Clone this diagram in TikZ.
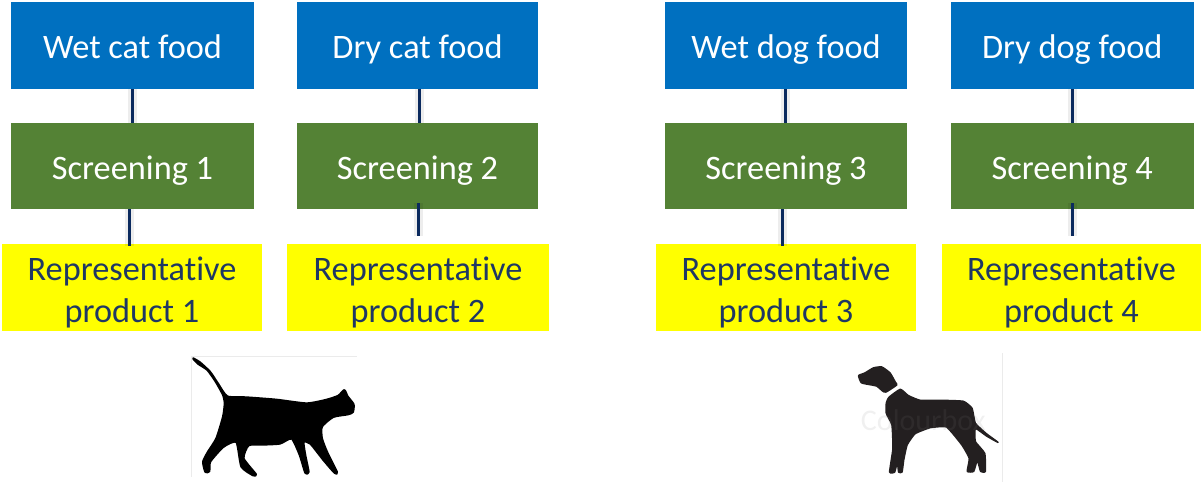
\documentclass[tikz,border=0pt]{standalone}
\usepackage{fontspec}
\setmainfont[Ligatures=NoCommon]{Carlito}
\definecolor{bluebox}{HTML}{0070C0}
\definecolor{greenbox}{HTML}{548235}
\definecolor{yellowbox}{HTML}{FFFF00}
\definecolor{navy}{HTML}{0B2A5E}
\definecolor{navytext}{HTML}{1F3864}
\definecolor{dogblack}{HTML}{231F20}
\tikzset{
  basebox/.style={anchor=north west,inner sep=0pt,outer sep=0pt,align=center,font=\fontsize{34.3}{42}\selectfont},
  foodbox/.style={basebox,fill=bluebox,text=white,text height=32pt,text depth=6pt,minimum height=87pt},
  screenbox/.style={basebox,fill=greenbox,text=white,text height=32pt,text depth=6pt,minimum height=86pt},
  prodbox/.style={basebox,fill=yellowbox,text=navytext,text height=75pt,text depth=6pt,minimum height=87pt},
  link/.style={draw=navy,line width=3pt,preaction={draw=black,opacity=0.07,line width=9pt}},
  zoomed/.style={x=0.3333pt,y=-0.3333pt},
  hairline/.style={draw=black!8,line width=0.7pt}
}
\begin{document}
\begin{tikzpicture}[x=1pt,y=-1pt]
\useasboundingbox (0,0) rectangle (1201,484);
% column 1
\node[foodbox,minimum width=243pt] (f1) at (11,2) {Wet cat food};
\node[screenbox,minimum width=243pt] (s1) at (11,123) {Screening 1};
\node[prodbox,minimum width=260pt] (p1) at (2,244) {Representative\\product 1};
% column 2
\node[foodbox,minimum width=241pt] (f2) at (297,2) {Dry cat food};
\node[screenbox,minimum width=241pt] (s2) at (297,123) {Screening 2};
\node[prodbox,minimum width=262pt] (p2) at (287,244) {Representative\\product 2};
% column 3
\node[foodbox,minimum width=242pt] (f3) at (665,2) {Wet dog food};
\node[screenbox,minimum width=242pt] (s3) at (665,123) {Screening 3};
\node[prodbox,minimum width=260pt] (p3) at (656,244) {Representative\\product 3};
% column 4
\node[foodbox,minimum width=242.5pt] (f4) at (951,2) {Dry dog food};
\node[screenbox,minimum width=242.5pt] (s4) at (951,123) {Screening 4};
\node[prodbox,minimum width=259pt] (p4) at (942,244) {Representative\\product 4};
% connectors
\draw[link] ([xshift=-0.5pt]f1.south) -- ([xshift=-0.5pt]s1.north);
\draw[link] ([xshift=-3.5pt]s1.south) -- ([xshift=-3.5pt,yshift=-2pt]s1.south |- p1.north);
\draw[link] ([xshift=1.5pt]f2.south) -- ([xshift=1.5pt]s2.north);
\path ([xshift=1pt,yshift=6pt]s2.south) coordinate (s2out) ([yshift=8.5pt]p2.north) coordinate (p2in);
\draw[link] (s2out) -- (s2out |- p2in);
\draw[link] ([xshift=-1pt]f3.south) -- ([xshift=-1pt]s3.north);
\draw[link] ([xshift=-4pt]s3.south) -- ([xshift=-4pt,yshift=-2pt]s3.south |- p3.north);
\draw[link] (f4.south) -- (s4.north);
\path ([yshift=6pt]s4.south) coordinate (s4out) ([yshift=8.5pt]p4.north) coordinate (p4in);
\draw[link] (s4out) -- (s4out |- p4in);
% cat
\begin{scope}[shift={(180,345)},zoomed]
\draw[hairline] (35,395) -- (35,35) -- (532,35);
\filldraw[black,line width=2pt,line join=round] plot[smooth cycle,tension=0.35] coordinates {
(40,40)(60,52)(90,80)(115,117)(142,154)(200,157)(290,164)(380,175)(440,164)(475,152)(493,135)(503,154)(521,178)(519,201)(505,208)(460,216)(426,245)(426,280)(441,320)(471,381)(464,384)(430,345)(391,296)(371,291)(376,330)(386,381)(376,384)(359,330)(335,281)(300,296)(250,299)(206,301)(191,340)(228,388)(219,391)(184,365)(169,291)(130,306)(91,350)(88,379)(76,381)(69,350)(84,320)(109,280)(129,215)(134,175)(129,150)(107,110)(82,75)(55,57)(42,44)};
\end{scope}
% dog
\begin{scope}[shift={(840,345)},zoomed]
\draw[hairline] (487,25) -- (487,410);
\filldraw[dogblack,line width=1.6pt,line join=round] plot[smooth cycle,tension=0.3] coordinates {
(56,92)(75,84)(100,69)(125,66)(150,84)(166,112)(170,120)(138,141)(128,138)(110,123)(85,118)(64,113)};
\filldraw[dogblack,line width=1.6pt,line join=round] plot[smooth cycle,tension=0.25] coordinates {
(181,133)(205,152)(240,166)(300,166)(370,169)(396,190)(406,235)(440,267)(474,292)(440,273)(406,250)(406,290)(434,325)(436,379)(422,379)(412,345)(401,379)(382,379)(388,340)(366,300)(320,246)(270,248)(225,266)(201,300)(191,345)(186,381)(176,381)(172,350)(164,381)(149,381)(159,310)(156,240)(139,205)(139,175)(147,157)};
\node[text=black!50,opacity=0.12,font=\fontsize{30}{30}\selectfont] (mark) at (250,225) {Colourbox};
\end{scope}
\end{tikzpicture}
\end{document}
